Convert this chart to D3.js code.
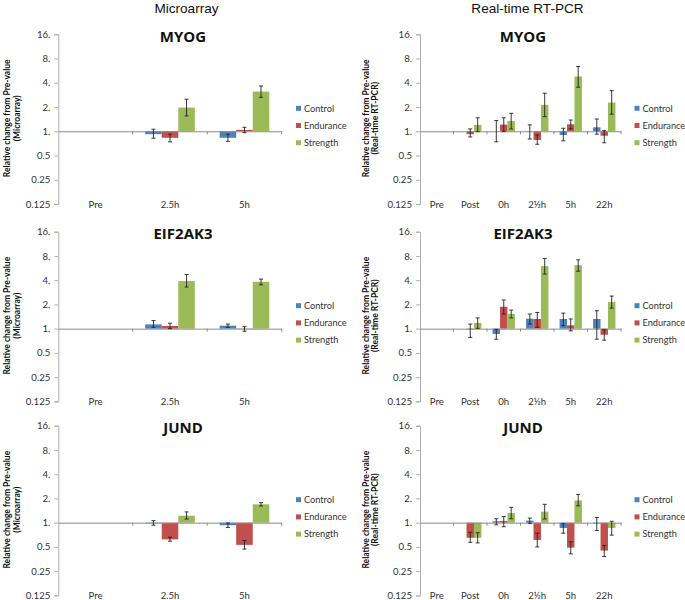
<!DOCTYPE html>
<html><head><meta charset="utf-8">
<script src="https://cdn.jsdelivr.net/npm/d3@7"></script>
<style>
html,body{margin:0;padding:0;background:#fff;}
svg{display:block;}
</style></head>
<body>
<svg id="chart" width="685" height="600"></svg>
<script>
// ---------- data ----------
const microCats = ["Pre", "2.5h", "5h"];
const pcrCats = ["Pre", "Post", "0h", "2½h", "5h", "22h"];
const seriesNames = ["Control", "Endurance", "Strength"];
const seriesColors = ["#4F81BD", "#C0504D", "#9BBB59"];
const yTicks = [0.125, 0.25, 0.5, 1, 2, 4, 8, 16];
const yTickLabels = ["0.125", "0.25", "0.5", "1.", "2.", "4.", "8.", "16."];
const genes = ["MYOG", "EIF2AK3", "JUND"];
const columnTitles = ["Microarray", "Real-time RT-PCR"];
const axisLabelSecond = ["(Microarray)", "(Real-time RT-PCR)"];

// values: [Control, Endurance, Strength] x categories
const myogMicroVal = [[null, 0.92, 0.83], [null, 0.83, 1.04], [null, 1.97, 3.11]];
const myogMicroLo  = [[null, 0.82, 0.75], [null, 0.74, 0.96], [null, 1.55, 2.64]];
const myogMicroHi  = [[null, 1.06, 0.92], [null, 0.92, 1.12], [null, 2.50, 3.65]];

const myogPcrVal = [[null, null, 1.00, 1.00, 0.90, 1.12], [null, 0.92, 1.21, 0.78, 1.22, 0.88], [null, 1.20, 1.34, 2.13, 4.79, 2.27]];
const myogPcrLo  = [[null, null, 0.74, 0.80, 0.76, 0.92], [null, 0.85, 0.99, 0.69, 1.07, 0.72], [null, 0.99, 1.07, 1.52, 3.53, 1.63]];
const myogPcrHi  = [[null, null, 1.36, 1.20, 1.09, 1.42], [null, 1.07, 1.47, 0.90, 1.38, 1.02], [null, 1.47, 1.67, 2.97, 6.37, 3.20]];

const eifMicroVal = [[null, 1.13, 1.09], [null, 1.08, 0.99], [null, 3.90, 3.82]];
const eifMicroLo  = [[null, 1.04, 1.04], [null, 1.00, 0.93], [null, 3.29, 3.51]];
const eifMicroHi  = [[null, 1.26, 1.14], [null, 1.17, 1.06], [null, 4.71, 4.13]];

const eifPcrVal = [[null, null, 0.86, 1.33, 1.32, 1.32], [null, 0.98, 1.87, 1.32, 1.10, 0.84], [null, 1.18, 1.53, 5.98, 6.15, 2.14]];
const eifPcrLo  = [[null, null, 0.74, 1.14, 1.09, 0.74], [null, 0.78, 1.52, 1.04, 0.94, 0.72], [null, 1.01, 1.36, 4.76, 5.18, 1.80]];
const eifPcrHi  = [[null, null, 0.98, 1.52, 1.56, 1.67], [null, 1.14, 2.27, 1.59, 1.32, 0.97], [null, 1.36, 1.70, 7.45, 7.16, 2.54]];

const jundMicroVal = [[null, 0.98, 0.93], [null, 0.62, 0.53], [null, 1.22, 1.69]];
const jundMicroLo  = [[null, 0.93, 0.87], [null, 0.59, 0.47], [null, 1.11, 1.61]];
const jundMicroHi  = [[null, 1.06, 0.99], [null, 0.66, 0.60], [null, 1.36, 1.77]];

const jundPcrVal = [[null, null, 1.04, 1.06, 0.86, 0.98], [null, 0.65, 1.05, 0.61, 0.49, 0.45], [null, 0.65, 1.32, 1.37, 1.89, 0.86]];
const jundPcrLo  = [[null, null, 0.94, 0.98, 0.74, 0.80], [null, 0.57, 0.89, 0.50, 0.41, 0.38], [null, 0.56, 1.12, 1.11, 1.62, 0.70]];
const jundPcrHi  = [[null, null, 1.12, 1.14, 0.97, 1.16], [null, 0.76, 1.19, 0.74, 0.58, 0.52], [null, 0.75, 1.55, 1.69, 2.24, 1.04]];

// ---------- layout ----------
const svg = d3.select("#chart");
const tickFont = "Lato, 'Open Sans', sans-serif";
const colX = [[58.3, 281.7], [420, 621]];
const rowTop = [34.3, 231.7, 425.7];
const plotH = 169.7;
const legendX = [296, 634.5];
const labelX = [[7, 17], [366, 375]];

svg.selectAll("text.coltitle").data(columnTitles).join("text")
  .attr("class", "coltitle")
  .attr("x", (d, i) => i === 0 ? 186.5 : 527.5)
  .attr("y", 13)
  .attr("text-anchor", "middle")
  .attr("font-family", "'Liberation Sans', Arial, sans-serif")
  .attr("font-size", 13.6)
  .attr("fill", "#111")
  .text(d => d);

const panels = [
  {g: 0, c: 0, cats: microCats, val: myogMicroVal, lo: myogMicroLo, hi: myogMicroHi},
  {g: 0, c: 1, cats: pcrCats, val: myogPcrVal, lo: myogPcrLo, hi: myogPcrHi},
  {g: 1, c: 0, cats: microCats, val: eifMicroVal, lo: eifMicroLo, hi: eifMicroHi},
  {g: 1, c: 1, cats: pcrCats, val: eifPcrVal, lo: eifPcrLo, hi: eifPcrHi},
  {g: 2, c: 0, cats: microCats, val: jundMicroVal, lo: jundMicroLo, hi: jundMicroHi},
  {g: 2, c: 1, cats: pcrCats, val: jundPcrVal, lo: jundPcrLo, hi: jundPcrHi}
];

panels.forEach(p => {
  const top = rowTop[p.g], bottom = top + plotH;
  const [x0, x1] = colX[p.c];
  const g = svg.append("g");

  const y = d3.scaleLog().base(2).domain([0.125, 16]).range([bottom, top]);
  const x = d3.scaleBand().domain(p.cats).range([x0, x1]).paddingInner(0).paddingOuter(0);
  const bw = x.bandwidth();
  const gap = bw * 1.5 / 4.5;
  const xs = d3.scaleBand().domain(seriesNames).range([gap / 2, bw - gap / 2]).padding(0);

  // y axis
  const yAxis = d3.axisLeft(y).tickValues(yTicks)
    .tickFormat((d, i) => yTickLabels[i]).tickSize(4).tickPadding(4);
  const ya = g.append("g").attr("transform", `translate(${x0},0)`).call(yAxis);
  ya.select(".domain").attr("stroke", "#b0b0b0");
  ya.selectAll(".tick line").attr("stroke", "#b0b0b0");
  ya.selectAll(".tick text").attr("font-family", tickFont).attr("font-size", 9.6).attr("fill", "#333");

  // bars
  seriesNames.forEach((s, si) => {
    const rows = p.cats.map((cat, ci) => ({cat, v: p.val[si][ci], lo: p.lo[si][ci], hi: p.hi[si][ci]}))
      .filter(d => d.v != null);
    g.selectAll(null).data(rows).join("rect")
      .attr("x", d => x(d.cat) + xs(s))
      .attr("width", xs.bandwidth())
      .attr("y", d => Math.min(y(d.v), y(1)))
      .attr("height", d => Math.abs(y(d.v) - y(1)))
      .attr("fill", seriesColors[si]);
  });

  // x axis at 1
  const xAxis = d3.axisBottom(x).tickSize(0).tickFormat("");
  const xa = g.append("g").attr("transform", `translate(0,${y(1)})`).call(xAxis);
  xa.select(".domain").attr("stroke", "#8a8a8a").attr("stroke-width", 1);
  g.selectAll(null).data(p.cats.slice(1).concat(["__end"])).join("line")
    .attr("x1", (d, i) => x0 + bw * (i + 1)).attr("x2", (d, i) => x0 + bw * (i + 1))
    .attr("y1", y(1)).attr("y2", y(1) + 3)
    .attr("stroke", "#8a8a8a");

  // error bars
  seriesNames.forEach((s, si) => {
    const rows = p.cats.map((cat, ci) => ({cat, lo: p.lo[si][ci], hi: p.hi[si][ci]}))
      .filter(d => d.lo != null);
    const cx = d => x(d.cat) + xs(s) + xs.bandwidth() / 2;
    const eg = g.append("g").attr("stroke", "#222").attr("stroke-width", 0.9);
    eg.selectAll(null).data(rows).join("line")
      .attr("x1", cx).attr("x2", cx).attr("y1", d => y(d.lo)).attr("y2", d => y(d.hi));
    ["lo", "hi"].forEach(k => {
      eg.selectAll(null).data(rows).join("line")
        .attr("x1", d => cx(d) - 2).attr("x2", d => cx(d) + 2)
        .attr("y1", d => y(d[k])).attr("y2", d => y(d[k]));
    });
  });

  // category labels
  g.selectAll(null).data(p.cats).join("text")
    .attr("x", d => x(d) + bw / 2)
    .attr("y", bottom + 3.5)
    .attr("text-anchor", "middle")
    .attr("font-family", tickFont).attr("font-size", 9.6).attr("fill", "#333")
    .text(d => d);

  // gene title
  g.append("text")
    .attr("x", p.c === 0 ? 183 : 523)
    .attr("y", top + 7.5)
    .attr("text-anchor", "middle")
    .attr("font-family", "'Open Sans', 'Liberation Sans', sans-serif")
    .attr("font-weight", "bold")
    .attr("font-size", 15)
    .attr("fill", "#111")
    .text(genes[p.g]);

  // y axis label
  const cy = top + 84;
  [ "Relative change from Pre-value", axisLabelSecond[p.c] ].forEach((t, li) => {
    g.append("text")
      .attr("transform", `translate(${labelX[p.c][li] + 3},${cy}) rotate(-90)`)
      .attr("text-anchor", "middle")
      .attr("font-family", tickFont)
      .attr("font-weight", "bold")
      .attr("font-size", 8.5)
      .attr("fill", "#111")
      .text(t);
  });

  // legend
  const lg = g.append("g");
  seriesNames.forEach((s, si) => {
    const ly = top + 74 + si * 17.2;
    lg.append("rect").attr("x", legendX[p.c]).attr("y", ly - 2.5).attr("width", 5).attr("height", 5)
      .attr("fill", seriesColors[si]);
    lg.append("text").attr("x", legendX[p.c] + 8).attr("y", ly + 3.3)
      .attr("font-family", tickFont).attr("font-size", 9.2).attr("fill", "#333")
      .text(s);
  });
});
</script>
</body></html>
